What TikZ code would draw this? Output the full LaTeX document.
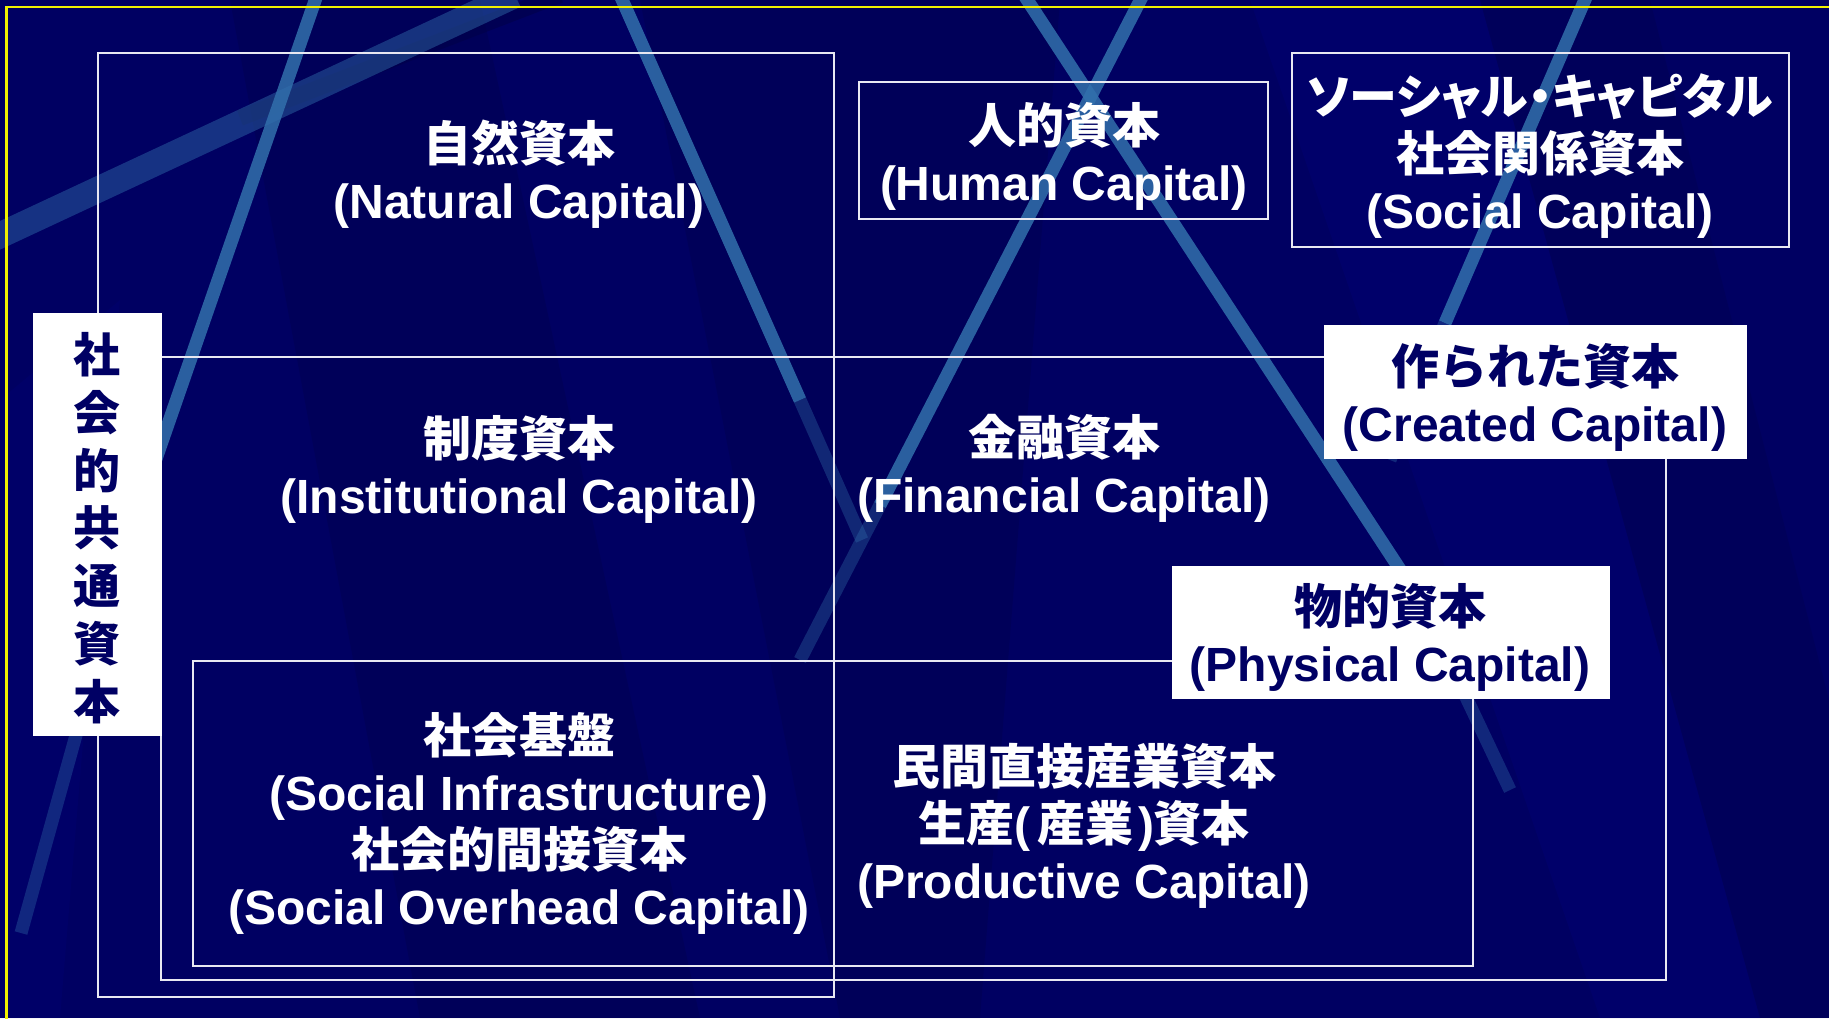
\documentclass[tikz,border=0pt]{standalone}
\usepackage{fontspec}
\setmainfont{Liberation Sans}
\newfontfamily\jp{Noto Sans CJK JP}
\newfontfamily\jpp{Noto Sans CJK JP}[RawFeature=+palt]
\definecolor{bg}{RGB}{0,0,98}
\definecolor{bgdark}{RGB}{0,0,70}
\definecolor{bglight}{RGB}{0,0,118}
\definecolor{navytxt}{RGB}{0,0,100}
\definecolor{streak}{RGB}{50,112,172}
\definecolor{frame}{RGB}{232,232,242}
\definecolor{yel}{RGB}{240,240,0}
\begin{document}
\begin{tikzpicture}[x=0.5pt,y=-0.5pt,
  boxline/.style={draw=frame, line width=1pt},
  lbl/.style={text=white, align=center, inner sep=0pt,
    font=\fontsize{24}{28.5}\selectfont\bfseries},
  wlbl/.style={fill=white, text=navytxt, align=center, inner sep=0pt,
    font=\fontsize{24}{28.5}\selectfont\bfseries},
  streakline/.style={draw=streak, line width=6.5pt, opacity=0.85},
  faintstreak/.style={draw=streak, line width=6.5pt, opacity=0.35}]
\useasboundingbox (0,0) rectangle (1829,1018);
% background
\fill[bg] (0,0) rectangle (1829,1018);
\fill[bgdark, opacity=0.3] (230,0) -- (480,0) -- (700,1018) -- (420,1018) -- cycle;
\fill[bgdark, opacity=0.3] (640,0) -- (1060,0) -- (980,1018) -- (840,1018) -- cycle;
\fill[bglight, opacity=0.4] (1250,0) -- (1480,0) -- (1760,1018) -- (1600,1018) -- cycle;
\fill[bgdark, opacity=0.25] (1480,0) -- (1650,0) -- (1829,700) -- (1829,1018) -- (1760,1018) -- cycle;
\fill[bglight, opacity=0.3] (0,400) -- (120,300) -- (60,1018) -- (0,1018) -- cycle;
% streaks
\draw[bgdark, line width=8pt, opacity=0.5] (240,118) -- (560,-5);
\draw[streak, line width=13pt, opacity=0.45] (-10,240) -- (515,-5);
\draw[streakline] (317,-5) -- (140,505);
\draw[faintstreak] (140,505) -- (21,933);
\draw[streakline] (620,-5) -- (800,400);
\draw[faintstreak] (800,400) -- (862,540);
\draw[streakline] (1024,-5) -- (1420,600);
\draw[faintstreak] (1420,600) -- (1510,790);
\draw[streakline] (1143,-5) -- (880,505);
\draw[faintstreak] (880,505) -- (800,660);
\draw[streakline] (1587,-5) -- (1445,323);
\draw[faintstreak] (1445,323) -- (1390,460);
% yellow frame
\draw[yel, line width=1.1pt] (6.5,1020) -- (6.5,7) -- (1830,7);
% box outlines
\draw[boxline] (97.5,52.5) rectangle (834,997);
\draw[boxline] (161,356.5) rectangle (1666,980);
\draw[boxline] (192.5,661) rectangle (1473,966);
\draw[boxline] (858.5,81.5) rectangle (1268,218.5);
\draw[boxline] (1292,52.5) rectangle (1788.5,247);
% white labels
\node[fill=white, minimum width=64.5pt, minimum height=211.5pt, inner sep=0pt] (kyotsubox) at (97.3,524.5) {};
\node[text=navytxt, align=center, inner sep=0pt, font=\fontsize{23.5}{28.9}\selectfont\bfseries\jp] (kyotsu) at (97,528) {社\\会\\的\\共\\通\\資\\本};
\node[wlbl, minimum width=211.5pt, minimum height=67pt] (created) at (1535.5,392) {};
\node[wlbl] (createdtxt) at (1535,397) {{\jp 作られた資本}\\(Created Capital)};
\node[wlbl, minimum width=219pt, minimum height=66.5pt] (physical) at (1391,632.5) {};
\node[wlbl] (physicaltxt) at (1390,637) {{\jp 物的資本}\\(Physical Capital)};
% texts
\node[lbl] (natural) at (519,174) {{\jp 自然資本}\\(Natural Capital)};
\node[lbl] (human) at (1064,156) {{\jp 人的資本}\\(Human Capital)};
\node[lbl] (social) at (1540,156) {{\jpp ソーシャル・キャピタル}\\{\jp 社会関係資本}\\(Social Capital)};
\node[lbl] (inst) at (519,469) {{\jp 制度資本}\\(Institutional Capital)};
\node[lbl] (fin) at (1064,468) {{\jp 金融資本}\\(Financial Capital)};
\node[lbl] (infra) at (519,823) {{\jp 社会基盤}\\(Social Infrastructure)\\{\jp 社会的間接資本}\\(Social Overhead Capital)};
\node[lbl] (prod) at (1084,826) {{\jp 民間直接産業資本}\\{\jp 生産}(\kern0.15em{\jp 産業}\kern0.1em){\jp 資本}\\(Productive Capital)};
\end{tikzpicture}
\end{document}
